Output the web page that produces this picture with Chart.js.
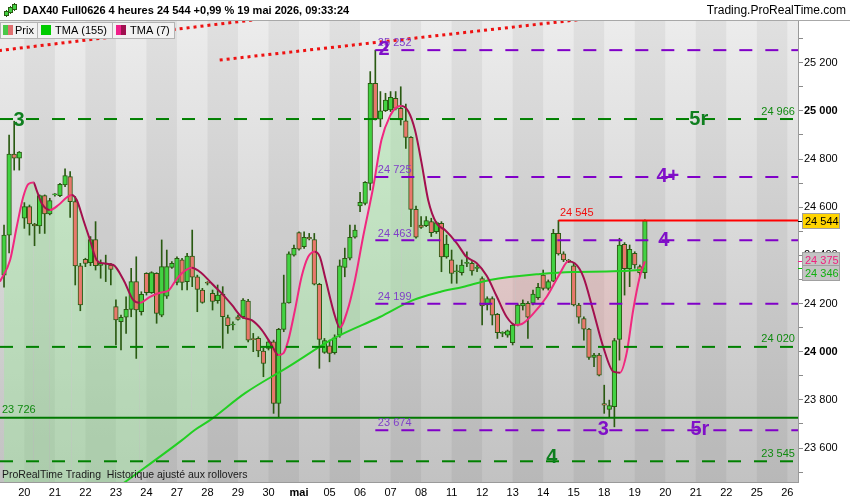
<!DOCTYPE html>
<html>
<head>
<meta charset="utf-8">
<script src="https://cdn.jsdelivr.net/npm/chart.js@4.4.1/dist/chart.umd.min.js"></script>
<style>
html, body { margin: 0; padding: 0; background: #fff; overflow: hidden; }
#wrap { width: 850px; height: 500px; }
</style>
</head>
<body>
<div id="wrap"><canvas id="dax" width="850" height="500"></canvas></div>
<script>
// DAX40 4h - one entry per 4h candle
const candleOpen = [24318,24484,24820,24804,24554,24602,24530,24522,24648,24572,
  24651,24648,24692,24727,24623,24357,24383,24370,24466,24358,
  24364,24360,24187,24125,24143,24176,24291,24166,24325,24245,
  24325,24152,24231,24350,24288,24381,24291,24397,24311,24256,
  24286,24242,24212,24239,24142,24111,24145,24145,24210,24051,
  24055,24003,24014,24041,23785,24093,24203,24401,24495,24436,
  24475,24466,24280,23997,24024,23996,24069,24350,24388,24475,
  24605,24616,24699,25114,24965,25001,25004,25052,25010,24959,
  24890,24591,24526,24523,24540,24498,24533,24394,24381,24332,
  24328,24367,24367,24346,24304,24194,24221,24155,24076,24069,
  24037,24111,24190,24201,24201,24224,24318,24263,24293,24491,
  24406,24379,24356,24194,24138,24094,23976,23986,23785,23760,
  23772,24051,24446,24345,24408,24353,24328];
const candleHigh = [24526,24899,24957,24831,24619,24609,24533,24651,24651,24637,
  24656,24699,24759,24748,24644,24367,24388,24478,24540,24381,
  24401,24367,24215,24152,24228,24346,24394,24249,24328,24332,
  24328,24464,24422,24374,24394,24388,24408,24505,24318,24263,
  24291,24256,24277,24270,24152,24124,24152,24221,24217,24076,
  24062,24014,24048,24048,24097,24318,24415,24443,24498,24498,
  24491,24491,24284,24055,24048,24070,24381,24430,24526,24526,
  24662,24706,25163,25252,25080,25073,25080,25080,25100,25028,
  24893,24605,24561,24561,24554,24540,24540,24484,24422,24360,
  24381,24415,24374,24360,24311,24228,24228,24159,24083,24090,
  24118,24198,24215,24208,24256,24284,24339,24298,24508,24545,
  24415,24383,24367,24201,24145,24097,23993,23993,23861,23799,
  24055,24471,24453,24443,24415,24360,24548];
const candleLow = [24268,24410,24754,24754,24512,24484,24440,24491,24491,24568,
  24646,24644,24685,24558,24277,24170,24353,24357,24339,24305,
  24291,24277,24028,24007,24076,24145,23972,24152,24235,24242,
  24118,24145,24221,24346,24277,24256,24256,24270,24166,24201,
  24277,24173,24201,24014,24076,24090,24131,24138,24041,24000,
  23979,23896,24007,23744,23726,24083,24201,24397,24422,24429,
  24464,24277,23931,23993,23958,23990,24060,24311,24381,24471,
  24581,24609,24671,24962,24934,24997,24997,25004,24941,24844,
  24519,24471,24512,24519,24478,24491,24332,24388,24284,24284,
  24318,24353,24318,24332,24111,24173,24111,24055,24062,24060,
  24028,24107,24173,24055,24194,24217,24256,24256,24291,24401,
  24374,24370,24190,24118,24048,23968,23938,23899,23744,23730,
  23688,23965,24235,24270,24346,24311,24304];
const candleClose = [24484,24820,24804,24829,24602,24530,24522,24648,24572,24627,
  24653,24695,24731,24623,24356,24194,24367,24466,24357,24367,
  24367,24342,24132,24143,24176,24291,24173,24238,24245,24328,
  24159,24353,24353,24367,24388,24288,24397,24309,24259,24205,
  24284,24209,24235,24145,24108,24111,24134,24214,24048,24050,
  24003,23951,24041,23785,24093,24203,24406,24429,24426,24475,
  24468,24280,24051,24046,23993,24058,24356,24388,24475,24505,
  24620,24703,25114,24965,25000,25045,25056,25010,24962,24890,
  24591,24475,24516,24544,24494,24536,24394,24447,24325,24333,
  24360,24368,24335,24347,24190,24221,24152,24079,24077,24087,
  24111,24194,24201,24143,24239,24267,24263,24291,24491,24406,
  24381,24376,24194,24143,24094,23976,23986,23903,23778,23776,
  24046,24443,24345,24425,24360,24328,24544];

// first candle of each day and its label (20 avril -> 26 mai)
const dayStartSlots = [4,10,16,22,28,34,40,46,52,58,64,70,76,82,88,94,100,106,112,118,124,130,136,142,148,154];
const dayLabels = ['20','21','22','23','24','27','28','29','30','mai','05','06','07','08',
  '11','12','13','14','15','18','19','20','21','22','25','26'];

// moving averages (slot, value)
const tma7Slots = [-0.8,1.2,2.5,3.8,4.8,5.8,6.4,7.4,9.0,10.7,12.3,13.3,14.3,15.6,16.9,18.2,19.5,21.5,23.5,25.4,
  26.7,28.7,30.7,32.3,33.6,34.9,36.9,38.9,40.8,42.8,44.8,46.7,48.7,50.7,52.6,53.9,54.9,55.9,57.2,58.5,
  59.8,61.1,62.1,63.1,65.1,66.0,67.5,69.0,70.6,72.6,74.2,75.9,77.2,78.2,79.5,80.8,82.1,83.4,85.0,86.7,
  89.0,90.9,92.9,94.9,96.9,98.8,100.5,101.8,104.1,106.7,109.3,110.9,112.2,113.9,115.8,117.8,119.8,121.1,122.4,123.7,
  125.0,126];
const tma7Values = [24291,24381,24519,24644,24696,24702,24671,24616,24588,24609,24640,24651,24630,24547,24464,24381,24367,24360,24298,24215,
  24203,24228,24245,24253,24291,24325,24349,24325,24284,24242,24194,24145,24131,24090,24028,23986,23993,24048,24173,24311,
  24394,24415,24394,24311,24145,24100,24170,24298,24477,24685,24879,24979,25015,25020,24997,24920,24783,24629,24534,24505,
  24451,24394,24368,24315,24228,24145,24111,24115,24159,24228,24325,24374,24367,24311,24173,24020,23917,23913,23993,24173,
  24311,24375];
const tma155Slots = [0,12,23.8,35,37.5,40.5,47.4,55.8,65,73.9,80.4,85.7,90.2,95.5,105.4,111.9,125,126];
const tma155Values = [23090,23276,23459,23633,23675,23716,23828,23936,24057,24144,24214,24248,24269,24298,24323,24331,24339,24346];

// horizontal levels
const pivotLevels = [25252, 24725, 24463, 24199, 23674];   // violet
const supportLevels = [24966, 24020, 23545];               // vert, pointilles
const lowLevel = 23726;                                    // vert plein
const highLevel = 24545;                                   // rouge
const pivotFromSlot = 73;
const highFromSlot = 109;
// red dotted trend lines: [slot, price] pairs
const trendLines = [
  [[-1, 25250], [50, 25380]],
  [[42.4, 25211], [120, 25395]]
];

const FONT = "'Liberation Sans', Arial, sans-serif";
const xMin = -0.79, xMax = 156.1;
const GREEN_LV = '#008000', PURPLE_LV = '#8000c8';

function fmt(v) {
  const s = String(Math.round(v));
  return s.slice(0, s.length - 3) + ' ' + s.slice(-3);
}

const slots = candleOpen.map((_, i) => i);
const bodyColors = slots.map(i => candleClose[i] >= candleOpen[i] ? '#42d242' : '#e8786c');

function level(points, color, dash, width) {
  return {
    type: 'line',
    data: points.map(p => ({ x: p[0], y: p[1] })),
    borderColor: color,
    borderWidth: width || 2,
    borderDash: dash,
    borderCapStyle: 'butt',
    pointRadius: 0,
    fill: false,
    tension: 0,
    clip: 0,
    order: 0
  };
}

const levelSets = [];
supportLevels.forEach(v => levelSets.push(level([[xMin, v], [xMax + 1, v]], GREEN_LV, [13, 13])));
pivotLevels.forEach(v => levelSets.push(level([[pivotFromSlot, v], [xMax + 1, v]], PURPLE_LV, [13, 13])));
levelSets.push(level([[xMin, lowLevel], [xMax + 1, lowLevel]], '#007800', []));
levelSets.push(level([[highFromSlot, highLevel], [xMax + 1, highLevel]], '#ff0000', []));
trendLines.forEach(t => levelSets.push(level(t, '#ee1111', [3, 4], 3)));

// text marks drawn on the chart (slot, price, offset)
const valueTags = [
  { v: pivotLevels[0], slot: 73.5, dy: -7, align: 'left', color: '#8040c8' },
  { v: pivotLevels[1], slot: 73.5, dy: -7, align: 'left', color: '#8040c8' },
  { v: pivotLevels[2], slot: 73.5, dy: -6, align: 'left', color: '#8040c8' },
  { v: pivotLevels[3], slot: 73.5, dy: -7, align: 'left', color: '#8040c8' },
  { v: pivotLevels[4], slot: 73.5, dy: -7, align: 'left', color: '#8040c8' },
  { v: supportLevels[0], slot: 155.5, dy: -7, align: 'right', color: '#108a10' },
  { v: supportLevels[1], slot: 155.5, dy: -8, align: 'right', color: '#108a10' },
  { v: supportLevels[2], slot: 155.5, dy: -7, align: 'right', color: '#108a10' },
  { v: lowLevel, slot: -0.4, dy: -8, align: 'left', color: '#108a10' },
  { v: highLevel, slot: 109.3, dy: -7, align: 'left', color: '#f01010' }
];
const bigTags = [
  { t: '3', v: supportLevels[0], slot: 2.95, dy: 1, color: '#0f7f1f' },
  { t: '5r', v: supportLevels[0], slot: 136.6, dy: 0, color: '#0f7f1f' },
  { t: '4', v: supportLevels[2], slot: 107.7, dy: -4, color: '#0f7f1f' },
  { t: '2', v: pivotLevels[0], slot: 74.7, dy: -1, color: '#8010c8' },
  { t: '4+', v: pivotLevels[1], slot: 130.5, dy: -1, color: '#8010c8' },
  { t: '4', v: pivotLevels[2], slot: 129.7, dy: 0, color: '#8010c8' },
  { t: '3', v: pivotLevels[4], slot: 117.8, dy: -1, color: '#8010c8' },
  { t: '5r', v: pivotLevels[4], slot: 136.8, dy: -1, color: '#8010c8' }
];

const prtLook = {
  id: 'prtLook',
  beforeDraw(chart) {
    const { ctx, chartArea: a, scales: { x } } = chart;
    ctx.save();
    ctx.fillStyle = '#ffffff';
    ctx.fillRect(0, 0, chart.width, chart.height);
    const g = ctx.createLinearGradient(0, a.top, 0, a.bottom);
    g.addColorStop(0, '#ececec');
    g.addColorStop(1, '#c2c2c2');
    ctx.fillStyle = g;
    ctx.fillRect(a.left, a.top, a.right - a.left, a.bottom - a.top);
    ctx.fillStyle = 'rgba(0,0,0,0.05)';
    dayStartSlots.forEach((s, d) => {
      if (d % 2 === 0) {
        const x0 = x.getPixelForValue(s);
        const x1 = x.getPixelForValue(s + 6);
        ctx.fillRect(x0, a.top, x1 - x0, a.bottom - a.top);
      }
    });
    ctx.restore();
  },
  afterDraw(chart) {
    const { ctx, chartArea: a, scales: { x, y } } = chart;
    ctx.save();
    ctx.beginPath();
    ctx.rect(a.left, a.top, a.right - a.left, a.bottom - a.top);
    ctx.clip();
    ctx.textBaseline = 'middle';
    ctx.font = '11px ' + FONT;
    valueTags.forEach(t => {
      ctx.fillStyle = t.color;
      ctx.textAlign = t.align;
      ctx.fillText(fmt(t.v), x.getPixelForValue(t.slot), y.getPixelForValue(t.v) + t.dy);
    });
    ctx.font = 'bold 20px ' + FONT;
    ctx.textAlign = 'center';
    bigTags.forEach(t => {
      ctx.fillStyle = t.color;
      ctx.fillText(t.t, x.getPixelForValue(t.slot), y.getPixelForValue(t.v) + t.dy);
    });
    ctx.font = '10.5px ' + FONT;
    ctx.fillStyle = '#1a1a1a';
    ctx.textAlign = 'left';
    ctx.fillText('ProRealTime Trading  Historique ajusté aux rollovers', 2, a.bottom - 7);
    ctx.restore();

    // header bar
    ctx.save();
    ctx.fillStyle = '#ffffff';
    ctx.fillRect(0, 0, chart.width, a.top - 1);
    ctx.strokeStyle = '#a8a8a8';
    ctx.lineWidth = 1;
    ctx.beginPath();
    ctx.moveTo(0, a.top - 0.5);
    ctx.lineTo(chart.width, a.top - 0.5);
    ctx.stroke();
    // little candle icon
    [[6, 10, 17, 12, 15], [10, 6, 14, 8, 12], [14, 3, 11, 5, 9]].forEach(c => {
      ctx.strokeStyle = '#2a5a12';
      ctx.beginPath(); ctx.moveTo(c[0] + 0.5, c[1]); ctx.lineTo(c[0] + 0.5, c[2]); ctx.stroke();
      ctx.fillStyle = '#42d242';
      ctx.fillRect(c[0] - 1, c[3], 3, c[4] - c[3]);
      ctx.strokeRect(c[0] - 1.5, c[3] - 0.5, 4, c[4] - c[3] + 1);
    });
    ctx.fillStyle = '#000';
    ctx.textBaseline = 'middle';
    ctx.textAlign = 'left';
    ctx.font = 'bold 11px ' + FONT;
    ctx.fillText('DAX40 Full0626 4 heures 24 544 +0,99 % 19 mai 2026, 09:33:24', 23, 11);
    ctx.textAlign = 'right';
    ctx.font = '12px ' + FONT;
    ctx.fillText('Trading.ProRealTime.com', 846, 11);

    // legend box
    ctx.fillStyle = '#f2f2f2';
    ctx.fillRect(0.5, 22.5, 174, 16);
    ctx.strokeStyle = '#b4b4b4';
    ctx.strokeRect(0.5, 22.5, 174, 16);
    ctx.beginPath();
    ctx.moveTo(37.5, 22.5); ctx.lineTo(37.5, 38.5);
    ctx.moveTo(112.5, 22.5); ctx.lineTo(112.5, 38.5);
    ctx.stroke();
    ctx.fillStyle = '#48c848'; ctx.fillRect(3, 25, 5, 10);
    ctx.fillStyle = '#e07070'; ctx.fillRect(8, 25, 5, 10);
    ctx.fillStyle = '#00cc00'; ctx.fillRect(41, 25, 10, 10);
    ctx.fillStyle = '#f0208a'; ctx.fillRect(116, 25, 5, 10);
    ctx.fillStyle = '#a01050'; ctx.fillRect(121, 25, 5, 10);
    ctx.fillStyle = '#000';
    ctx.textAlign = 'left';
    ctx.font = '11px ' + FONT;
    ctx.fillText('Prix', 15, 31);
    ctx.fillText('TMA (155)', 55, 31);
    ctx.fillText('TMA (7)', 130, 31);

    // price tags on the right axis
    const last = candleClose[candleClose.length - 1];
    const ma7Last = tma7Values[tma7Values.length - 1];
    const ma155Last = tma155Values[tma155Values.length - 1];
    const yClose = y.getPixelForValue(last);
    const yMa7 = y.getPixelForValue(ma7Last);
    const yMa155 = y.getPixelForValue(ma155Last);
    ctx.lineWidth = 1;
    [[yClose, '#000000'], [yMa7, '#f0208a'], [yMa155, '#00c000']].forEach(p => {
      ctx.strokeStyle = p[1];
      ctx.beginPath(); ctx.moveTo(a.right, Math.round(p[0]) + 0.5); ctx.lineTo(a.right + 5, Math.round(p[0]) + 0.5); ctx.stroke();
    });
    const tag = (yc, bg, fg, text) => {
      ctx.fillStyle = bg;
      ctx.fillRect(803, Math.round(yc) - 7, 36, 14);
      ctx.strokeStyle = '#a0a0a0';
      ctx.strokeRect(802.5, Math.round(yc) - 7.5, 37, 15);
      ctx.fillStyle = fg;
      ctx.textAlign = 'left';
      ctx.fillText(text, 805, Math.round(yc) + 0.5);
    };
    tag(yClose, '#ffd400', '#000', fmt(last));
    const t7 = yMa7 - 1;
    tag(t7, '#c4c4c4', '#f0207e', fmt(ma7Last));
    tag(Math.max(yMa155, t7 + 13), '#c4c4c4', '#10b010', fmt(ma155Last));
    ctx.restore();
  }
};

new Chart(document.getElementById('dax').getContext('2d'), {
  type: 'bar',
  data: {
    datasets: [
      {
        label: 'wicks',
        data: slots.map(i => ({ x: i, y: [candleLow[i], candleHigh[i]] })),
        backgroundColor: '#2a5a12',
        borderWidth: 0,
        barThickness: 1,
        grouped: false,
        order: 4
      },
      {
        label: 'Prix',
        data: slots.map(i => ({ x: i, y: [candleOpen[i], candleClose[i]] })),
        backgroundColor: bodyColors,
        borderColor: '#2a5a12',
        borderWidth: 1,
        borderSkipped: false,
        barThickness: 4.6,
        minBarLength: 1,
        grouped: false,
        order: 3
      },
      {
        type: 'line',
        label: 'TMA (155)',
        data: tma155Slots.map((s, i) => ({ x: s, y: tma155Values[i] })),
        borderColor: '#22d022',
        borderWidth: 2,
        pointRadius: 0,
        cubicInterpolationMode: 'monotone',
        fill: false,
        clip: 0,
        order: 2
      },
      {
        type: 'line',
        label: 'TMA (7)',
        data: tma7Slots.map((s, i) => ({ x: s, y: tma7Values[i] })),
        borderColor: '#f0287f',
        segment: {
          borderColor: c => c.p1.parsed.y < c.p0.parsed.y ? '#a3104e' : '#f0287f'
        },
        borderWidth: 2,
        pointRadius: 0,
        cubicInterpolationMode: 'monotone',
        fill: { target: 2, above: 'rgba(150,240,150,0.35)', below: 'rgba(255,150,150,0.25)' },
        clip: 0,
        order: 1
      },
      ...levelSets
    ]
  },
  options: {
    responsive: false,
    animation: false,
    events: [],
    layout: { padding: { top: 21, left: 0, right: 0, bottom: 0 } },
    plugins: {
      legend: { display: false },
      tooltip: { enabled: false },
      filler: { drawTime: 'beforeDatasetsDraw' }
    },
    scales: {
      x: {
        type: 'linear',
        min: xMin,
        max: xMax,
        offset: false,
        grid: { display: false, drawTicks: false },
        border: { display: true, color: '#9a9a9a' },
        afterBuildTicks: s => { s.ticks = dayStartSlots.map(v => ({ value: v })); },
        afterFit: s => { s.height = 18; s.paddingLeft = 0; s.paddingRight = 0; },
        ticks: {
          autoSkip: false,
          maxRotation: 0,
          padding: 4,
          color: '#000',
          font: c => ({ family: FONT, size: 11, weight: dayLabels[c.index] === 'mai' ? 'bold' : 'normal' }),
          callback: (v, i) => dayLabels[i]
        }
      },
      y: {
        position: 'right',
        min: 23459,
        max: 25373,
        grid: { display: true, drawOnChartArea: false, drawTicks: true, tickLength: 5, tickColor: '#8a8a8a' },
        border: { display: true, color: '#9a9a9a' },
        afterBuildTicks: s => {
          const t = [];
          for (let v = 23500; v <= 25300; v += 100) t.push({ value: v });
          s.ticks = t;
        },
        afterFit: s => { s.width = 52; s.paddingTop = 0; s.paddingBottom = 0; },
        ticks: {
          padding: 1,
          color: '#000',
          font: c => ({ family: FONT, size: 11, weight: c.tick && c.tick.value % 1000 === 0 ? 'bold' : 'normal' }),
          callback: v => (v % 200 === 0 ? fmt(v) : '')
        }
      }
    }
  },
  plugins: [prtLook]
});
</script>
</body>
</html>
